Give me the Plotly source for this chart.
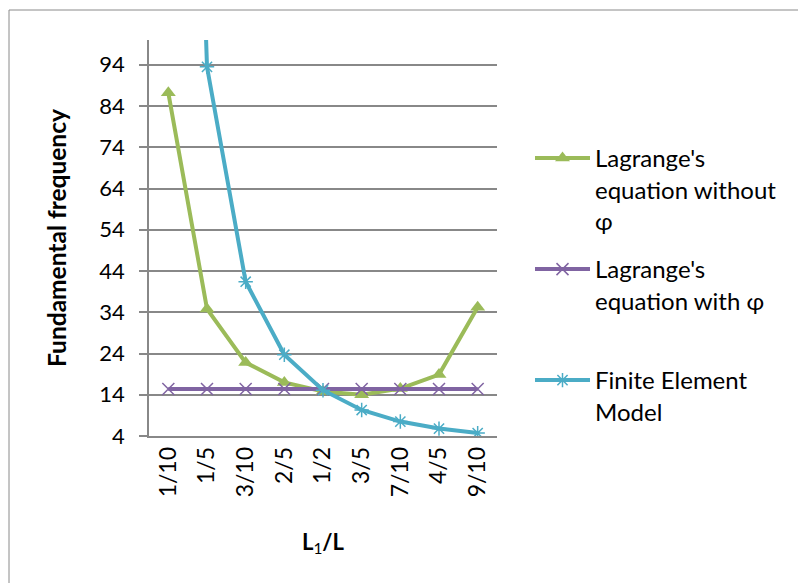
import plotly.graph_objects as go

categories = ["1/10", "1/5", "3/10", "2/5", "1/2", "3/5", "7/10", "4/5", "9/10"]
without_phi = [87.2, 34.8, 21.8, 17.0, 14.8, 14.0, 15.5, 18.9, 35.2]
with_phi = [15.4, 15.4, 15.4, 15.4, 15.4, 15.4, 15.4, 15.4, 15.4]
fem = [374.0, 93.5, 41.4, 23.7, 15.1, 10.3, 7.5, 5.8, 4.7]

names = ["Lagrange's<br>equation without<br>φ", "Lagrange's<br>equation with φ", "Finite Element<br>Model"]

FONT = "Lato"
green = "#9BBB59"
purple = "#8064A2"
blue = "#4BACC6"
grid = "#888888"

fig = go.Figure()
fig.add_trace(go.Scatter(x=categories, y=without_phi, name=names[0], mode="lines+markers",
                         line=dict(color=green, width=4),
                         marker=dict(symbol="triangle-up", size=13, color=green),
                         legend="legend", showlegend=True))
fig.add_trace(go.Scatter(x=categories, y=with_phi, name=names[1], mode="lines+markers",
                         line=dict(color=purple, width=4),
                         marker=dict(symbol="x-thin-open", size=12, color=purple,
                                     line=dict(color=purple, width=1.5)),
                         legend="legend2", showlegend=True))
fig.add_trace(go.Scatter(x=categories, y=fem, name=names[2], mode="lines+markers",
                         line=dict(color=blue, width=4),
                         marker=dict(symbol="asterisk-open", size=12, color=blue,
                                     line=dict(color=blue, width=1.5)),
                         legend="legend3", showlegend=True))

L, R, T, B = 149, 301, 40, 147
W, H = 798, 583
pw, ph = W - L - R, H - T - B

def px_x(p):
    return (p - L) / pw

def px_y(p):
    return 1 - (p - T) / ph

leg_common = dict(xanchor="left", yanchor="top", valign="top", visible=True,
                  font=dict(family=FONT, size=24, color="#000000"),
                  bgcolor="rgba(0,0,0,0)", itemwidth=55, itemclick=False)

fig.update_layout(
    width=W, height=H,
    showlegend=True,
    margin=dict(l=L, r=R, t=T, b=B),
    paper_bgcolor="white", plot_bgcolor="white",
    font=dict(family=FONT, color="#000000"),
    legend=dict(x=px_x(530), y=px_y(136), **leg_common),
    legend2=dict(x=px_x(530), y=px_y(247), **leg_common),
    legend3=dict(x=px_x(530), y=px_y(358), **leg_common),
    xaxis=dict(
        type="category", range=[-0.5, 8.5],
        showline=True, linecolor=grid, linewidth=1.5,
        showgrid=False, ticks="", tickangle=-90,
        tickfont=dict(family=FONT, size=23, color="#000000"),
        title=dict(text="<b>L</b><sub>1</sub><b>/L</b>", font=dict(family=FONT, size=22), standoff=38),
    ),
    yaxis=dict(
        range=[4, 100], tick0=4, dtick=10,
        showline=True, linecolor=grid, linewidth=1.5,
        showgrid=True, gridcolor=grid, gridwidth=1.5,
        ticks="outside", ticklen=8, tickcolor=grid, tickwidth=1.5,
        ticklabelstandoff=10,
        tickfont=dict(family=FONT, size=22, color="#000000"),
        zeroline=False,
        title=dict(text="<b>Fundamental frequency</b>", font=dict(family=FONT, size=24.5), standoff=26),
    ),
    shapes=[
        dict(type="line", xref="paper", yref="paper",
             x0=px_x(9), x1=px_x(800), y0=px_y(10), y1=px_y(10),
             line=dict(color="#8a8a8a", width=1), layer="below"),
        dict(type="line", xref="paper", yref="paper",
             x0=px_x(9), x1=px_x(9), y0=px_y(10), y1=px_y(600),
             line=dict(color="#8a8a8a", width=1), layer="below"),
    ],
)

fig.write_html("out.html")
